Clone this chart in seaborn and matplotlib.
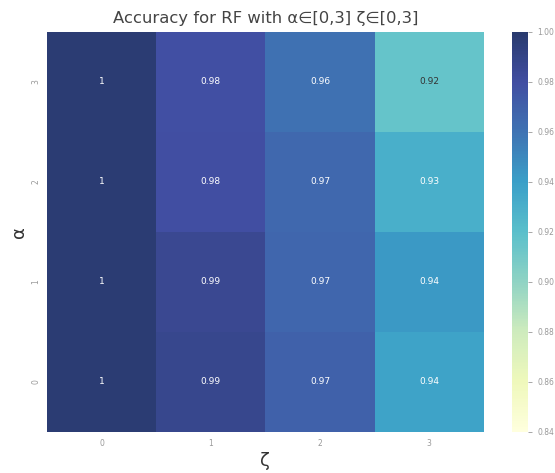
import numpy as np
import pandas as pd
import seaborn as sns
from matplotlib import pyplot as plt

# accuracy grid, rows = alpha 0..3, cols = zeta 0..3
alphas = [0, 1, 2, 3]
zetas = [0, 1, 2, 3]
acc_a0 = [0.998, 0.988, 0.970, 0.938]
acc_a1 = [0.998, 0.986, 0.967, 0.943]
acc_a2 = [0.998, 0.980, 0.966, 0.930]
acc_a3 = [0.998, 0.979, 0.961, 0.916]

df = pd.DataFrame([acc_a0, acc_a1, acc_a2, acc_a3], index=alphas, columns=zetas)

sns.set_style("white")
fig = plt.figure(figsize=(5.55, 4.73), dpi=100)
ax = fig.add_axes([0.0847, 0.0867, 0.787, 0.846])
cax = fig.add_axes([0.9225, 0.0867, 0.029, 0.846])

sns.heatmap(df, ax=ax, cbar_ax=cax, cmap="YlGnBu", vmin=0.84, vmax=1.0,
            annot=True, annot_kws={"size": 6.5}, alpha=0.87)
ax.invert_yaxis()

# light cells get dark text
for t in ax.texts:
    if float(t.get_text()) < 0.925:
        t.set_color("#333333")
    else:
        t.set_color("white")

ax.set_title("Accuracy for RF with α∈[0,3] ζ∈[0,3]", fontsize=11.8, color="#444444")
ax.set_xlabel("ζ", fontsize=13, color="#333333", labelpad=3)
ax.set_ylabel("α", fontsize=13, color="#333333", labelpad=2)
ax.tick_params(axis="both", labelsize=5.5, colors="#999999", length=0, pad=5)
plt.setp(ax.get_yticklabels(), rotation=90, va="center")
cax.tick_params(labelsize=5.5, colors="#999999", length=3, width=0.6)
cax.set_yticks(np.arange(0.84, 1.001, 0.02))
cax.set_yticklabels([f"{v:.2f}" for v in np.arange(0.84, 1.001, 0.02)])

fig.savefig("out.png", dpi=100)
